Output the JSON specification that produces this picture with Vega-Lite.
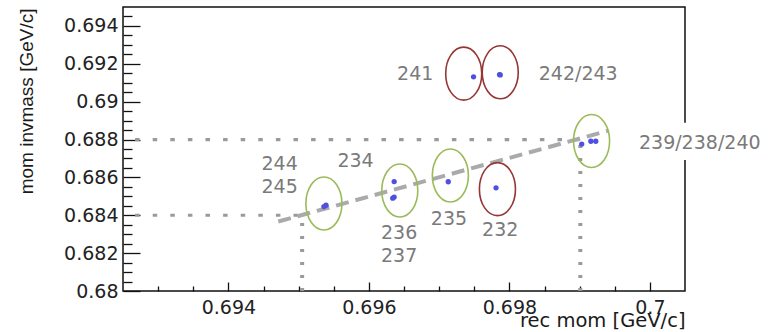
{
  "$schema": "https://vega.github.io/schema/vega-lite/v6.json",
  "width": 562,
  "height": 284,
  "autosize": {"type": "none"},
  "padding": {"left": 123, "top": 7, "right": 85, "bottom": 41},
  "background": "white",
  "config": {
    "view": {"stroke": "#111111", "strokeWidth": 1.5},
    "axis": {"grid": false, "domain": false, "tickColor": "#111111", "tickWidth": 1.3}
  },
  "datasets": {
    "points": [
      {"x": 0.69539, "y": 0.68453, "run": "244"},
      {"x": 0.69536, "y": 0.68446, "run": "245"},
      {"x": 0.69636, "y": 0.68578, "run": "234"},
      {"x": 0.69636, "y": 0.68496, "run": "236"},
      {"x": 0.69634, "y": 0.6849, "run": "237"},
      {"x": 0.69713, "y": 0.68577, "run": "235"},
      {"x": 0.69781, "y": 0.68545, "run": "232"},
      {"x": 0.69749, "y": 0.69131, "run": "241"},
      {"x": 0.69786, "y": 0.69143, "run": "242"},
      {"x": 0.69787, "y": 0.69141, "run": "243"},
      {"x": 0.69903, "y": 0.68776, "run": "239"},
      {"x": 0.69916, "y": 0.68791, "run": "238"},
      {"x": 0.69923, "y": 0.68791, "run": "240"}
    ],
    "ellipses": [
      {"x": 0.69536, "y": 0.68462, "group": "good"},
      {"x": 0.69644, "y": 0.68531, "group": "good"},
      {"x": 0.69716, "y": 0.6861, "group": "good"},
      {"x": 0.69917, "y": 0.68792, "group": "good"},
      {"x": 0.69783, "y": 0.68538, "group": "bad"},
      {"x": 0.69735, "y": 0.69148, "group": "bad"},
      {"x": 0.69787, "y": 0.69155, "group": "bad"}
    ],
    "hrefs": [
      {"x": 0.6925, "x2": 0.699, "y": 0.688},
      {"x": 0.6925, "x2": 0.695, "y": 0.684}
    ],
    "vrefs": [
      {"x": 0.69505, "y": 0.68, "y2": 0.684},
      {"x": 0.69901, "y": 0.68, "y2": 0.688}
    ],
    "fit": [
      {"x": 0.69471, "y": 0.68367},
      {"x": 0.69941, "y": 0.68847}
    ],
    "mask": [
      {"x": 0.69969, "x2": 0.7018, "y": 0.68692, "y2": 0.68888}
    ],
    "labels": [
      {"x": 0.69666, "y": 0.69144, "text": "241"},
      {"x": 0.69898, "y": 0.69144, "text": "242/243"},
      {"x": 0.70071, "y": 0.68781, "text": "239/238/240"},
      {"x": 0.69473, "y": 0.68669, "text": "244"},
      {"x": 0.69473, "y": 0.68549, "text": "245"},
      {"x": 0.69581, "y": 0.68689, "text": "234"},
      {"x": 0.69643, "y": 0.68304, "text": "236"},
      {"x": 0.69643, "y": 0.68186, "text": "237"},
      {"x": 0.69714, "y": 0.6838, "text": "235"},
      {"x": 0.69787, "y": 0.68322, "text": "232"}
    ]
  },
  "resolve": {"axis": {"x": "independent", "y": "independent"}},
  "layer": [
    {
      "data": {"name": "hrefs"},
      "mark": {"type": "rule", "color": "#9a9a9a", "strokeWidth": 3.2, "strokeDash": [4.5, 13.1], "strokeDashOffset": 5.5},
      "encoding": {
        "x": {"field": "x", "type": "quantitative", "scale": {"domain": [0.6925, 0.7005], "nice": false, "zero": false},
          "axis": {"orient": "bottom", "values": [0.693, 0.6935, 0.6945, 0.695, 0.6955, 0.6965, 0.697, 0.6975, 0.6985, 0.699, 0.6995], "labels": false, "tickSize": -5, "title": null}},
        "x2": {"field": "x2"},
        "y": {"field": "y", "type": "quantitative", "scale": {"domain": [0.68, 0.695], "nice": false, "zero": false},
          "axis": {"orient": "left", "values": [0.6805, 0.681, 0.6815, 0.6825, 0.683, 0.6835, 0.6845, 0.685, 0.6855, 0.6865, 0.687, 0.6875, 0.6885, 0.689, 0.6895, 0.6905, 0.691, 0.6915, 0.6925, 0.693, 0.6935, 0.6945], "labels": false, "tickSize": -9, "title": null}}
      }
    },
    {
      "data": {"name": "vrefs"},
      "mark": {"type": "rule", "color": "#9a9a9a", "strokeWidth": 4, "strokeDash": [3, 10]},
      "encoding": {
        "x": {"field": "x", "type": "quantitative", "axis": null},
        "y": {"field": "y", "type": "quantitative", "axis": null},
        "y2": {"field": "y2"}
      }
    },
    {
      "data": {"name": "fit"},
      "mark": {"type": "line", "color": "#aaaaaa", "strokeWidth": 4, "strokeDash": [13, 7]},
      "encoding": {
        "x": {"field": "x", "type": "quantitative", "axis": null},
        "y": {"field": "y", "type": "quantitative", "axis": null}
      }
    },
    {
      "data": {"name": "ellipses"},
      "mark": {"type": "point", "shape": "M-0.68,0A0.68,1,0,1,0,0.68,0A0.68,1,0,1,0,-0.68,0Z", "size": 2809, "filled": false, "strokeWidth": 1.6, "opacity": 1},
      "encoding": {
        "x": {"field": "x", "type": "quantitative", "axis": null},
        "y": {"field": "y", "type": "quantitative", "axis": null},
        "color": {"field": "group", "type": "nominal", "scale": {"domain": ["good", "bad"], "range": ["#9bbb59", "#963634"]}, "legend": null}
      }
    },
    {
      "data": {"name": "points"},
      "mark": {"type": "circle", "size": 28, "color": "#5050e0", "opacity": 1},
      "encoding": {
        "x": {"field": "x", "type": "quantitative",
          "axis": {"orient": "bottom", "values": [0.694, 0.696, 0.698, 0.7], "format": "~g", "tickSize": -9, "labelPadding": 16,
            "labelFont": "DejaVu Sans", "labelFontSize": 19, "labelColor": "#222222",
            "title": "rec mom [GeV/c]", "titleFont": "DejaVu Sans", "titleFontSize": 19.5, "titleFontWeight": "normal", "titleColor": "#1a1a1a",
            "titleX": 562, "titleY": 35, "titleAlign": "right", "titleBaseline": "alphabetic", "titleAngle": 0}},
        "y": {"field": "y", "type": "quantitative",
          "axis": {"orient": "left", "values": [0.68, 0.682, 0.684, 0.686, 0.688, 0.69, 0.692, 0.694], "format": "~g", "tickSize": -17, "labelPadding": 22,
            "labelFont": "DejaVu Sans", "labelFontSize": 19, "labelColor": "#222222",
            "title": "mom invmass [GeV/c]", "titleFont": "Liberation Sans", "titleFontSize": 19, "titleFontWeight": "normal", "titleColor": "#1a1a1a",
            "titleX": -91, "titleY": 1, "titleAlign": "right", "titleBaseline": "alphabetic", "titleAngle": 270}}
      }
    },
    {
      "data": {"name": "mask"},
      "mark": {"type": "rect", "fill": "white", "stroke": null, "clip": false},
      "encoding": {
        "x": {"field": "x", "type": "quantitative", "axis": null},
        "x2": {"field": "x2"},
        "y": {"field": "y", "type": "quantitative", "axis": null},
        "y2": {"field": "y2"}
      }
    },
    {
      "data": {"name": "labels"},
      "mark": {"type": "text", "font": "DejaVu Sans", "fontSize": 19, "color": "#7a7a7a", "align": "center", "baseline": "middle"},
      "encoding": {
        "x": {"field": "x", "type": "quantitative", "axis": null},
        "y": {"field": "y", "type": "quantitative", "axis": null},
        "text": {"field": "text", "type": "nominal"}
      }
    }
  ]
}
